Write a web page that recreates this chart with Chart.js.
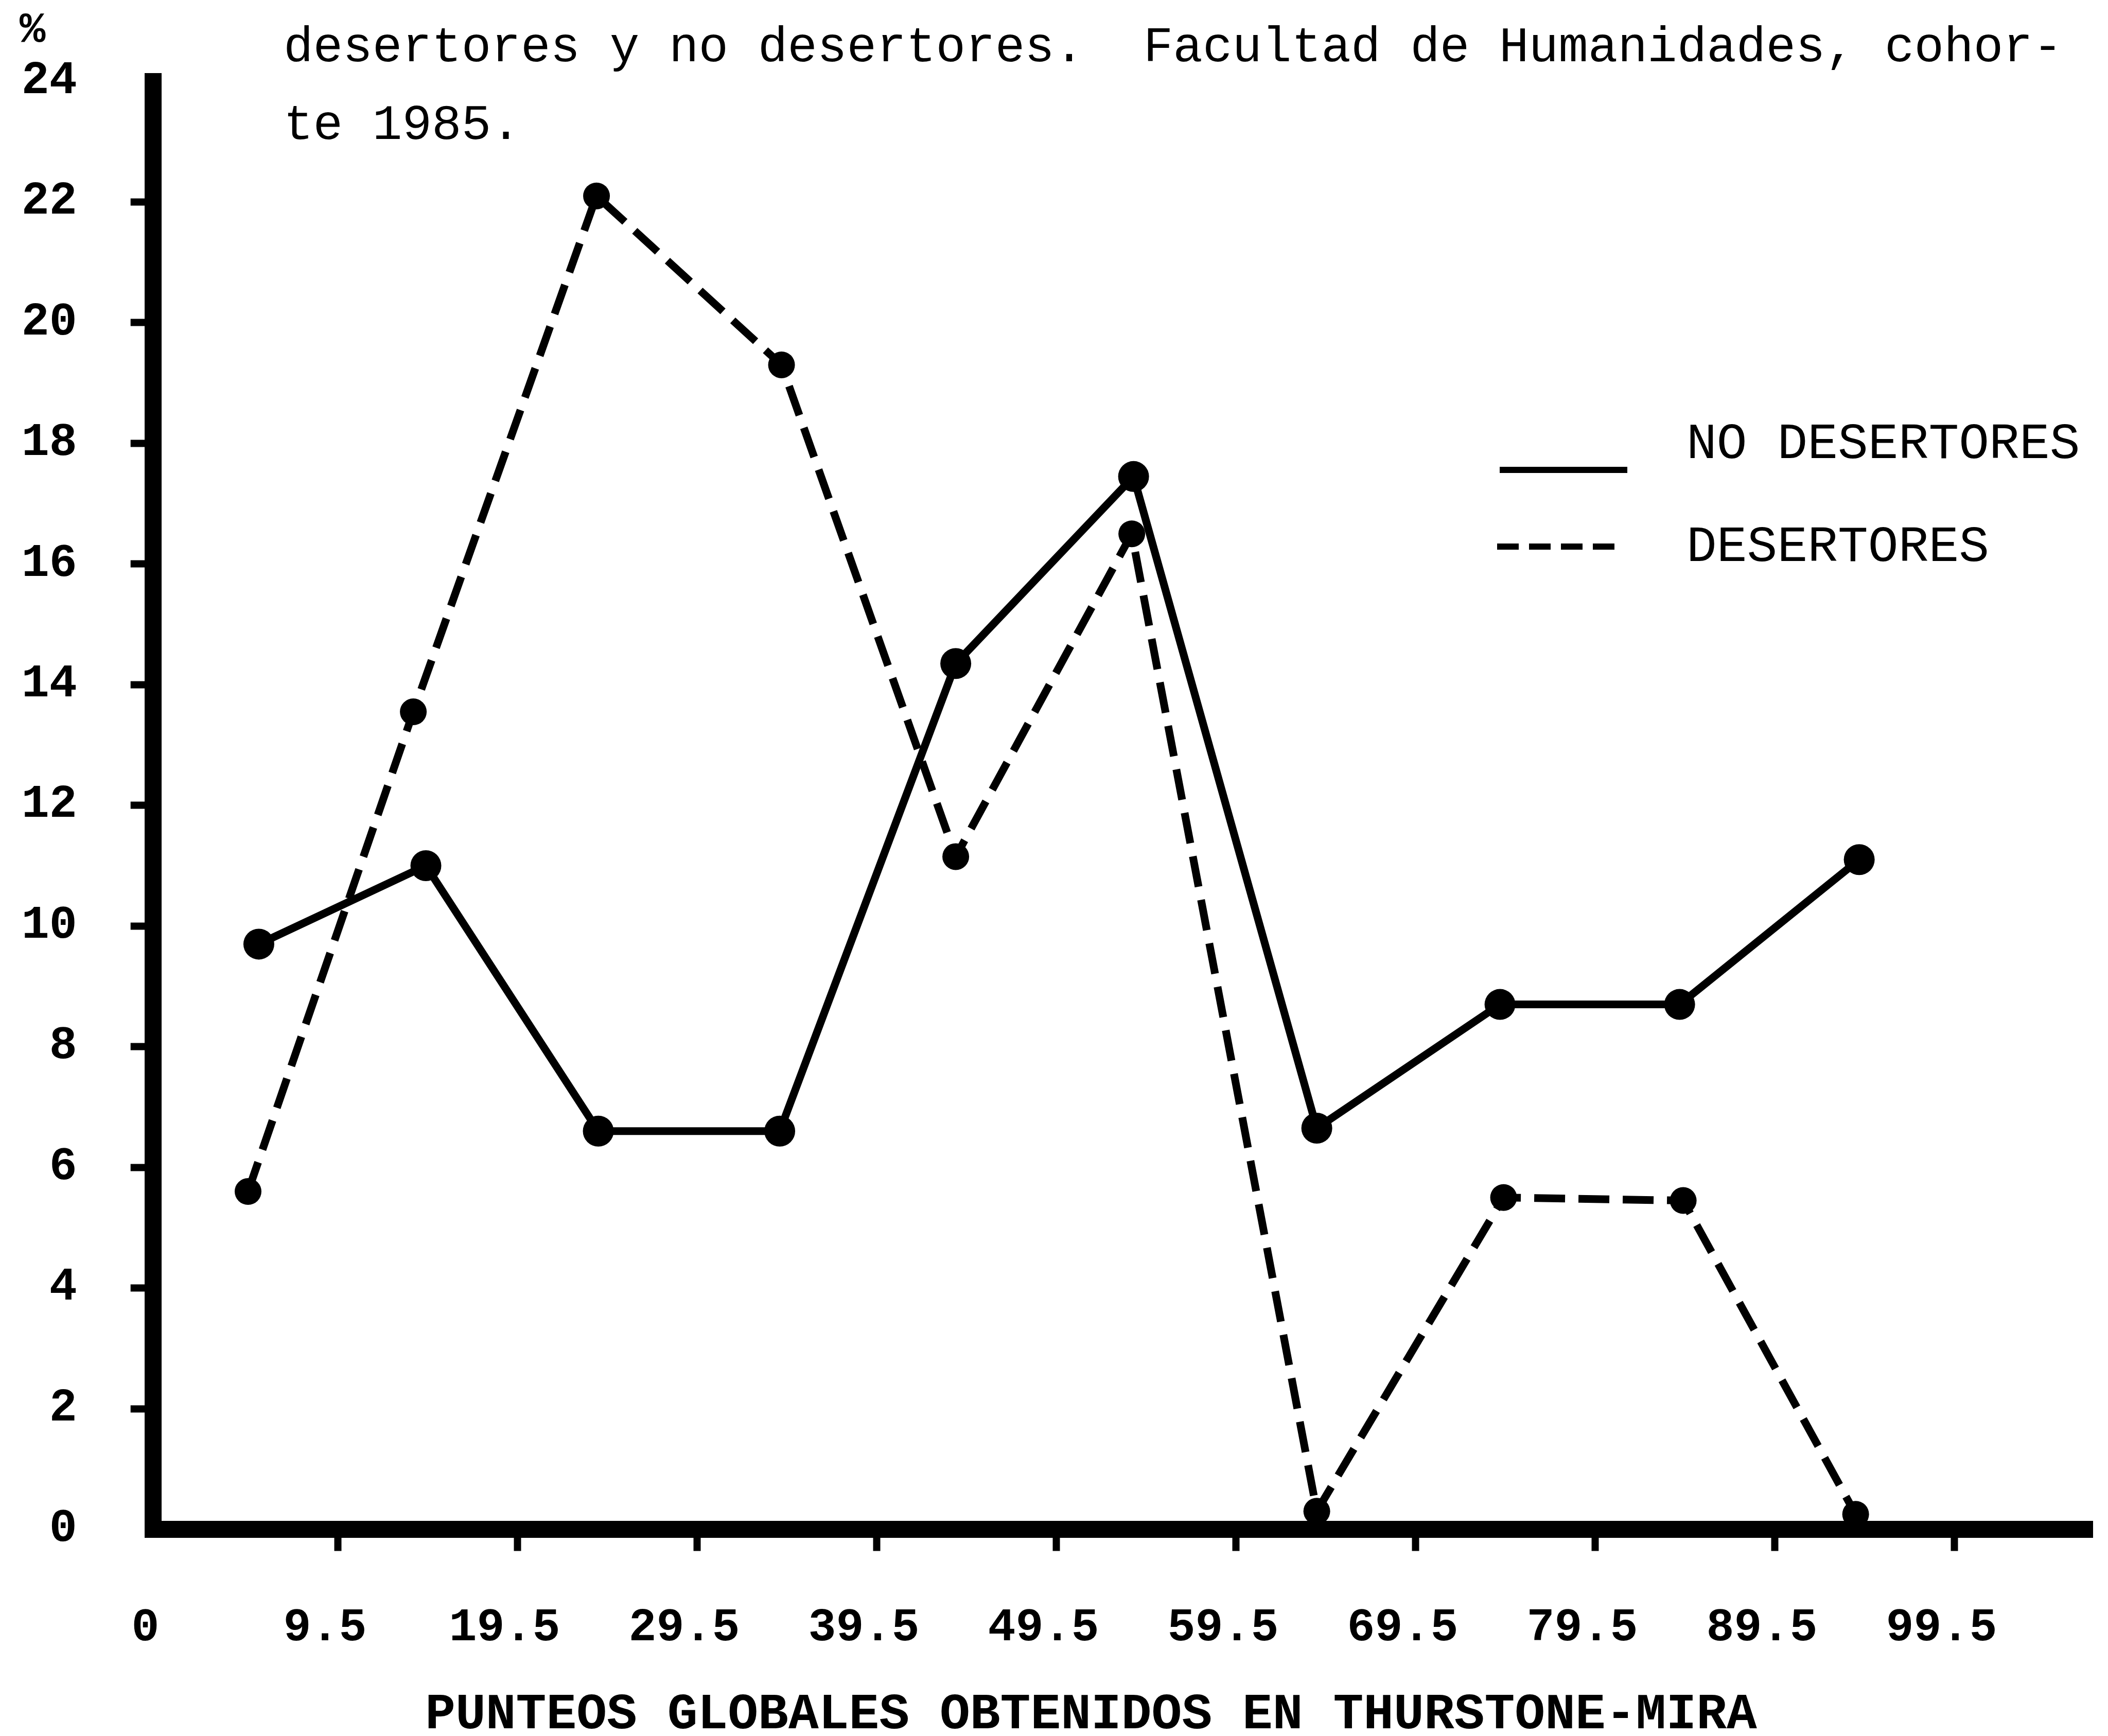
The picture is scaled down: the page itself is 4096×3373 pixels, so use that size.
<!DOCTYPE html>
<html lang="es">
<head>
<meta charset="utf-8">
<title>Desertores y no desertores</title>
<script src="https://cdn.jsdelivr.net/npm/chart.js@4.4.1/dist/chart.umd.min.js"></script>
<style>
  html, body { margin: 0; padding: 0; background: #fff; }
  canvas { display: block; }
</style>
</head>
<body>
<canvas id="grafico" width="4096" height="3373"></canvas>
<script>
// valores (punto medio de cada intervalo de punteo, %)
const xNoDesertores = [5.1, 14.4, 24.0, 34.1, 43.9, 53.8, 64.0, 74.2, 84.2, 94.2];
const yNoDesertores = [9.7, 11.0, 6.6, 6.6, 14.35, 17.45, 6.65, 8.7, 8.7, 11.1];
const xDesertores = [4.5, 13.7, 23.9, 34.2, 43.9, 53.7, 64.0, 74.4, 84.4, 94.0];
const yDesertores = [5.6, 13.55, 22.1, 19.3, 11.15, 16.5, 0.3, 5.5, 5.45, 0.25];

const ticksX = [-0.5, 9.5, 19.5, 29.5, 39.5, 49.5, 59.5, 69.5, 79.5, 89.5, 99.5];
const etiquetasX = ["0", "9.5", "19.5", "29.5", "39.5", "49.5", "59.5", "69.5", "79.5", "89.5", "99.5"];
const ticksY = [0, 2, 4, 6, 8, 10, 12, 14, 16, 18, 20, 22, 24];

const titulo = ["desertores y no desertores.  Facultad de Humanidades, cohor-", "te 1985."];
const tituloX = "PUNTEOS GLOBALES OBTENIDOS EN THURSTONE-MIRA";
const nombresSeries = ["NO DESERTORES", "DESERTORES"];

const fuente = '"Liberation Mono", "Courier New", monospace';
const negro = "#000";
const transparente = "rgba(0,0,0,0)";

function puntos(xs, ys) {
  return xs.map((x, i) => ({ x: x, y: ys[i] }));
}

// textos sueltos y leyenda
const textos = {
  id: "textos",
  afterDraw(chart) {
    const ctx = chart.ctx;
    ctx.save();
    ctx.fillStyle = negro;
    ctx.strokeStyle = negro;
    ctx.textAlign = "left";
    ctx.textBaseline = "alphabetic";

    ctx.font = "bold 84px " + fuente;
    ctx.fillText("%", 38, 82);

    ctx.font = "96px " + fuente;
    ctx.fillText(titulo[0], 551, 119);
    ctx.fillText(titulo[1], 551, 270);

    // leyenda
    const filas = [
      { y: 913, yTexto: 890, x1: 2914, x2: 3162 },
      { y: 1062, yTexto: 1090, x1: 2909, x2: 3152 }
    ];
    ctx.font = "98px " + fuente;
    filas.forEach((f, i) => {
      const ds = chart.data.datasets[i];
      ctx.lineWidth = 12;
      ctx.setLineDash(ds.borderDash.length ? [42, 20] : []);
      ctx.beginPath();
      ctx.moveTo(f.x1, f.y);
      ctx.lineTo(f.x2, f.y);
      ctx.stroke();
      ctx.fillText(nombresSeries[i], 3277, f.yTexto);
    });
    ctx.setLineDash([]);

    ctx.font = "bold 98px " + fuente;
    ctx.textAlign = "center";
    ctx.fillText(tituloX, 2120, 3358);
    ctx.restore();
  }
};

const config = {
  type: "line",
  data: {
    datasets: [
      {
        label: nombresSeries[0],
        data: puntos(xNoDesertores, yNoDesertores),
        borderColor: negro,
        backgroundColor: negro,
        borderWidth: 15,
        borderJoinStyle: "round",
        pointRadius: 30,
        pointBorderWidth: 0,
        pointBackgroundColor: negro,
        borderDash: [],
        tension: 0,
        clip: false
      },
      {
        label: nombresSeries[1],
        data: puntos(xDesertores, yDesertores),
        borderColor: negro,
        backgroundColor: negro,
        borderWidth: 15,
        borderDash: [60, 26],
        pointRadius: 26,
        pointBorderWidth: 0,
        pointBackgroundColor: negro,
        tension: 0,
        clip: false
      }
    ]
  },
  options: {
    responsive: false,
    animation: false,
    devicePixelRatio: 1,
    layout: { padding: { top: 157.7, right: 15, left: 0, bottom: 0 } },
    plugins: {
      legend: { display: false },
      tooltip: { enabled: false },
      title: { display: false }
    },
    scales: {
      x: {
        type: "linear",
        min: -0.78,
        max: 107.19,
        afterBuildTicks: (scale) => {
          scale.ticks = ticksX.map((v) => ({ value: v }));
        },
        afterFit: (scale) => {
          scale.height = 401.5;
        },
        ticks: {
          autoSkip: false,
          maxRotation: 0,
          padding: 97,
          labelOffset: -25,
          color: negro,
          font: { family: fuente, size: 90, weight: "bold" },
          callback: (valor, i) => etiquetasX[i]
        },
        grid: {
          drawOnChartArea: false,
          drawTicks: true,
          tickLength: 42,
          tickWidth: 14,
          tickColor: (c) => (c.index === 0 ? transparente : negro)
        },
        border: { display: true, color: negro, width: 33 }
      },
      y: {
        type: "linear",
        min: 0,
        max: 24,
        afterBuildTicks: (scale) => {
          scale.ticks = ticksY.map((v) => ({ value: v }));
        },
        afterFit: (scale) => {
          scale.width = 297.7;
        },
        ticks: {
          padding: 104,
          color: negro,
          font: { family: fuente, size: 90, weight: "bold" },
          callback: (valor) => String(valor)
        },
        grid: {
          drawOnChartArea: false,
          drawTicks: true,
          tickLength: 44,
          tickWidth: 14,
          tickColor: (c) => (c.tick && (c.tick.value === 0 || c.tick.value === 24) ? transparente : negro)
        },
        border: { display: true, color: negro, width: 33 }
      }
    }
  },
  plugins: [textos]
};

const grafico = new Chart(document.getElementById("grafico"), config);
</script>
</body>
</html>
